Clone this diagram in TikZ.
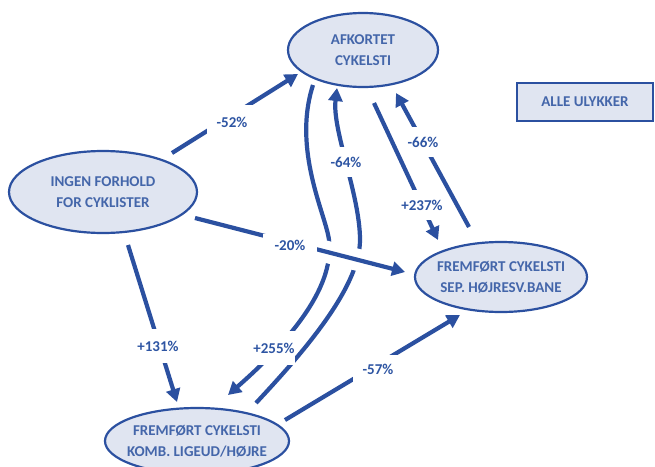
\documentclass[tikz,border=0pt]{standalone}
\usepackage{fontspec}
\setmainfont{Carlito}
\usetikzlibrary{shapes.geometric,arrows.meta,calc}
\definecolor{lineblue}{HTML}{2B50A0}
\definecolor{nodetext}{HTML}{4466AA}
\definecolor{labtext}{HTML}{2E55A3}
\definecolor{nodefill}{HTML}{E0E5F1}
\newcommand{\zw}[1]{\makebox[0pt]{#1}}
\begin{document}
\begin{tikzpicture}[x=1pt,y=-1pt,
  state/.style={ellipse, draw=lineblue, line width=2.2pt, fill=nodefill, text=nodetext,
    font=\bfseries\fontsize{15}{21}\selectfont, align=center, inner sep=0pt},
  conn/.style={draw=lineblue, line width=4.2pt, -{Triangle[length=13pt,width=14pt]}},
  lab/.style={fill=white, text=labtext, font=\bfseries\fontsize{15}{18}\selectfont, inner sep=0pt},
]
\useasboundingbox (0,0) rectangle (655,466);

% nodes
\node[state, minimum width=150pt, minimum height=74pt] (afk) at (363,50) {\zw{AFKORTET}\\\zw{CYKELSTI}};
\node[state, minimum width=188pt, minimum height=82pt] (ingen) at (103,192) {\zw{INGEN FORHOLD}\\\zw{FOR CYKLISTER}};
\node[state, minimum width=172pt, minimum height=70pt] (sep) at (501,277) {\zw{FREMFØRT CYKELSTI}\\\zw{SEP. HØJRESV.BANE}};
\node[state, minimum width=184pt, minimum height=66pt] (komb) at (197,441) {\zw{FREMFØRT CYKELSTI}\\\zw{KOMB. LIGEUD/HØJRE}};
\node[rectangle, draw=lineblue, line width=2.4pt, fill=nodefill, text=nodetext,
  font=\bfseries\fontsize{15}{18}\selectfont, minimum width=136pt, minimum height=38pt, inner sep=0pt]
  (alle) at (585,102) {ALLE ULYKKER};

% wavy connectors
\draw[conn] ($(afk)+(-50,35)$) .. controls (292,150) and (326,215) .. (329,240)
  .. controls (335,290) and (285,345) .. ($(komb)+(31,-46)$);
\draw[conn] ($(komb)+(59,-38)$) .. controls (296,360) and (360,290) .. (360,240)
  .. controls (360,195) and (332,130) .. ($(afk)+(-26,38)$);

% halo where -20% crosses the wavy connectors
\path ($(ingen)+(92,26)$) -- ($(sep)+(-96,-5)$) coordinate[pos=0.6] (h1) coordinate[pos=0.82] (h2);
\draw[white, line width=22pt] (h1) -- (h2);

% straight connectors
\draw[conn] ($(ingen)+(69,-39)$) -- ($(afk)+(-65,24)$);
\draw[conn] ($(ingen)+(92,26)$) -- ($(sep)+(-96,-5)$);
\draw[conn] ($(ingen)+(25,53)$) -- ($(komb)+(-20,-39)$);
\draw[conn] ($(komb)+(88,-21)$) -- ($(sep)+(-41,38)$);
\draw[conn] ($(afk)+(11,53)$) -- ($(sep)+(-63,-37)$);
\draw[conn] ($(sep)+(-32,-50)$) -- ($(afk)+(33,43)$);

% labels
\node[lab, minimum width=50pt, minimum height=34pt] (l52) at (232,122) {-52\%};
\node[lab, minimum width=54pt, minimum height=22pt] (l20) at (290,245) {-20\%};
\node[lab, minimum width=46pt, minimum height=34pt] (l131) at (158,346) {+131\%};
\node[lab, minimum width=50pt, minimum height=28pt] (l57) at (378,369) {-57\%};
\node[lab, minimum width=48pt, minimum height=30pt] (l237) at (422,205) {+237\%};
\node[lab, minimum width=40pt, minimum height=30pt] (l66) at (423,142) {-66\%};
\node[lab, minimum width=40pt, minimum height=30pt] (l64) at (346,162) {-64\%};
\node[lab, minimum width=42pt, minimum height=34pt] (l255) at (274,348) {+255\%};
\end{tikzpicture}
\end{document}
